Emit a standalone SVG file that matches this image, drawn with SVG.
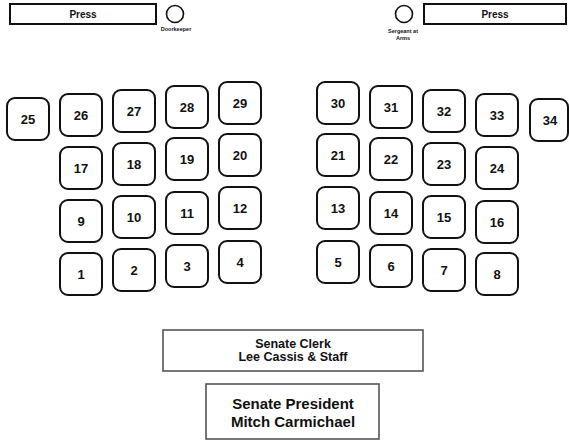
<svg xmlns="http://www.w3.org/2000/svg" width="569" height="442" viewBox="0 0 569 442">
<style>
text{font-family:"Liberation Sans",Arial,Helvetica,sans-serif;font-weight:bold;fill:#111;text-anchor:middle}
.seat rect{fill:#fff;stroke:#111;stroke-width:2}
.seat text{font-size:13px}
.press rect{fill:#fff;stroke:#111;stroke-width:2}
.press text{font-size:10px}
.post circle{fill:#fff;stroke:#111;stroke-width:1.6}
.post text{font-size:5.5px}
.desk rect{fill:#fff;stroke:#555;stroke-width:1.6}
</style>
<rect width="569" height="442" fill="#fff"/>
<g id="press-left" class="press"><rect x="10" y="4" width="146" height="20"/><text x="83" y="18">Press</text></g>
<g id="press-right" class="press"><rect x="424" y="4" width="142" height="20"/><text x="495" y="18">Press</text></g>
<g id="doorkeeper" class="post"><circle cx="175" cy="14" r="8.5"/><text x="176" y="31">Doorkeeper</text></g>
<g id="sergeant" class="post"><circle cx="404" cy="14" r="8.5"/><text x="403" y="33">Sergeant at</text><text x="403" y="40">Arms</text></g>
<g id="seat25" class="seat"><rect x="7" y="98" width="42" height="42" rx="8"/><text x="28" y="124">25</text></g>
<g id="seat26" class="seat"><rect x="60" y="94" width="42" height="42" rx="8"/><text x="81" y="120">26</text></g>
<g id="seat27" class="seat"><rect x="113" y="90" width="42" height="42" rx="8"/><text x="134" y="116">27</text></g>
<g id="seat28" class="seat"><rect x="166" y="86" width="42" height="42" rx="8"/><text x="187" y="112">28</text></g>
<g id="seat29" class="seat"><rect x="219" y="82" width="42" height="42" rx="8"/><text x="240" y="108">29</text></g>
<g id="seat17" class="seat"><rect x="60" y="147" width="42" height="42" rx="8"/><text x="81" y="173">17</text></g>
<g id="seat18" class="seat"><rect x="113" y="143" width="42" height="42" rx="8"/><text x="134" y="169">18</text></g>
<g id="seat19" class="seat"><rect x="166" y="138" width="42" height="42" rx="8"/><text x="187" y="164">19</text></g>
<g id="seat20" class="seat"><rect x="219" y="134" width="42" height="42" rx="8"/><text x="240" y="160">20</text></g>
<g id="seat9" class="seat"><rect x="60" y="200" width="42" height="42" rx="8"/><text x="81" y="226">9</text></g>
<g id="seat10" class="seat"><rect x="113" y="196" width="42" height="42" rx="8"/><text x="134" y="222">10</text></g>
<g id="seat11" class="seat"><rect x="166" y="192" width="42" height="42" rx="8"/><text x="187" y="218">11</text></g>
<g id="seat12" class="seat"><rect x="219" y="187" width="42" height="42" rx="8"/><text x="240" y="213">12</text></g>
<g id="seat1" class="seat"><rect x="60" y="253" width="42" height="42" rx="8"/><text x="81" y="279">1</text></g>
<g id="seat2" class="seat"><rect x="113" y="249" width="42" height="42" rx="8"/><text x="134" y="275">2</text></g>
<g id="seat3" class="seat"><rect x="166" y="245" width="42" height="42" rx="8"/><text x="187" y="271">3</text></g>
<g id="seat4" class="seat"><rect x="219" y="241" width="42" height="42" rx="8"/><text x="240" y="267">4</text></g>
<g id="seat30" class="seat"><rect x="317" y="82" width="42" height="42" rx="8"/><text x="338" y="108">30</text></g>
<g id="seat31" class="seat"><rect x="370" y="86" width="42" height="42" rx="8"/><text x="391" y="112">31</text></g>
<g id="seat32" class="seat"><rect x="423" y="90" width="42" height="42" rx="8"/><text x="444" y="116">32</text></g>
<g id="seat33" class="seat"><rect x="476" y="94" width="42" height="42" rx="8"/><text x="497" y="120">33</text></g>
<g id="seat34" class="seat"><rect x="530" y="99" width="38" height="42" rx="8"/><text x="550" y="125">34</text></g>
<g id="seat21" class="seat"><rect x="317" y="134" width="42" height="42" rx="8"/><text x="338" y="160">21</text></g>
<g id="seat22" class="seat"><rect x="370" y="138" width="42" height="42" rx="8"/><text x="391" y="164">22</text></g>
<g id="seat23" class="seat"><rect x="423" y="143" width="42" height="42" rx="8"/><text x="444" y="169">23</text></g>
<g id="seat24" class="seat"><rect x="476" y="147" width="42" height="42" rx="8"/><text x="497" y="173">24</text></g>
<g id="seat13" class="seat"><rect x="317" y="187" width="42" height="42" rx="8"/><text x="338" y="213">13</text></g>
<g id="seat14" class="seat"><rect x="370" y="192" width="42" height="42" rx="8"/><text x="391" y="218">14</text></g>
<g id="seat15" class="seat"><rect x="423" y="196" width="42" height="42" rx="8"/><text x="444" y="222">15</text></g>
<g id="seat16" class="seat"><rect x="476" y="201" width="42" height="42" rx="8"/><text x="497" y="227">16</text></g>
<g id="seat5" class="seat"><rect x="317" y="241" width="42" height="42" rx="8"/><text x="338" y="267">5</text></g>
<g id="seat6" class="seat"><rect x="370" y="245" width="42" height="42" rx="8"/><text x="391" y="271">6</text></g>
<g id="seat7" class="seat"><rect x="423" y="249" width="42" height="42" rx="8"/><text x="444" y="275">7</text></g>
<g id="seat8" class="seat"><rect x="476" y="253" width="42" height="42" rx="8"/><text x="497" y="279">8</text></g>
<g id="clerk" class="desk"><rect x="163" y="330" width="260" height="41"/><text x="293" y="348" font-size="12.5">Senate Clerk</text><text x="293" y="361" font-size="12.5">Lee Cassis &amp; Staff</text></g>
<g id="president" class="desk"><rect x="206" y="384" width="173" height="55"/><text x="293" y="409" font-size="15">Senate President</text><text x="293" y="427" font-size="15">Mitch Carmichael</text></g>
<g id="connectors"></g>
</svg>
